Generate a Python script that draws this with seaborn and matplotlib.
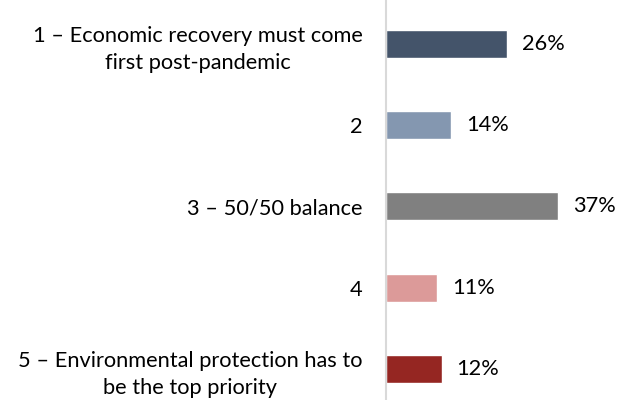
import numpy as np
import pandas as pd
import seaborn as sns
import matplotlib.pyplot as plt

categories = [
    "1 – Economic recovery must come\nfirst post-pandemic",
    "2",
    "3 – 50/50 balance",
    "4",
    "5 – Environmental protection has to\nbe the top priority",
]
values = [26, 14, 37, 11, 12]
colors = ["#44546A", "#8497B0", "#808080", "#DC9A99", "#952622"]

df = pd.DataFrame({"label": categories, "pct": values})

sns.set_theme(style="white")
plt.rcParams["font.family"] = ["Lato", "DejaVu Sans"]

fig = plt.figure(figsize=(6.18, 4.0), dpi=100)
ax = fig.add_axes([386 / 618, 0, 1 - 386 / 618, 1])

sns.barplot(data=df, x="pct", y="label", hue="label", palette=colors,
            orient="h", width=0.345, legend=False, ax=ax, saturation=1)

ax.set_xlim(0, 50)
ax.set_ylim(4.382, -0.5415)

for i, v in enumerate(values):
    ax.annotate(f"{v}%", xy=(v, i), xytext=(10.8, 0), textcoords="offset points",
                ha="left", va="center", fontsize=15.7, color="#000000")

ax.set_xlabel("")
ax.set_ylabel("")
ax.set_xticks([])
ax.tick_params(axis="y", length=0, pad=17)
for lab in ax.get_yticklabels():
    lab.set_fontsize(15.7)
    lab.set_color("#000000")
    lab.set_multialignment("center")
    lab.set_linespacing(1.45)

for s in ["top", "right", "bottom"]:
    ax.spines[s].set_visible(False)
ax.spines["left"].set_color("#D9D9D9")
ax.spines["left"].set_linewidth(1.5)

fig.savefig("out.png", dpi=100)
